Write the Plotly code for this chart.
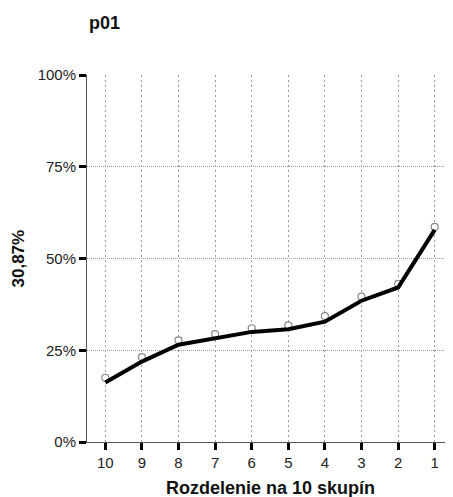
import plotly.graph_objects as go

categories = ["10", "9", "8", "7", "6", "5", "4", "3", "2", "1"]
observed = [17.5, 23.1, 27.7, 29.4, 31.0, 31.8, 34.3, 39.6, 43.1, 58.6]
fitted = [16.2, 21.9, 26.5, 28.2, 30.0, 30.7, 32.8, 38.5, 42.1, 57.8]
y_ticks = [0, 25, 50, 75, 100]
y_tick_labels = ["0%", "25%", "50%", "75%", "100%"]
title_text = "p01"
y_title_text = "30,87%"
x_title_text = "Rozdelenie na 10 skupín"

FONT = "Liberation Sans, Arial, sans-serif"

fig = go.Figure()
fig.add_trace(go.Scatter(
    x=categories, y=observed, mode="markers",
    marker=dict(symbol="circle", size=7, color="white",
                line=dict(color="#888888", width=1.2)),
    showlegend=False, cliponaxis=False,
))
fig.add_trace(go.Scatter(
    x=categories, y=fitted, mode="lines",
    line=dict(color="black", width=4),
    showlegend=False, cliponaxis=False,
))

fig.update_layout(
    width=445, height=489,
    margin=dict(l=79, r=0, t=67, b=55),
    paper_bgcolor="white", plot_bgcolor="white",
    font=dict(family=FONT, size=15, color="#222222"),
    xaxis=dict(
        type="category", range=[-0.5, 9.5],
        showgrid=True, gridcolor="#999999", griddash="2px,3px", gridwidth=1,
        showline=True, linecolor="#555555", linewidth=1,
        ticks="outside", ticklen=7, tickwidth=3, tickcolor="black",
        tickfont=dict(size=15, color="#222222"),
        zeroline=False, fixedrange=True,
    ),
    yaxis=dict(
        range=[0, 100], tickvals=y_ticks, ticktext=y_tick_labels,
        showgrid=True, gridcolor="#999999", griddash="1px,1px", gridwidth=1,
        showline=True, linecolor="#555555", linewidth=1,
        ticks="outside", ticklen=7, tickwidth=3, tickcolor="black",
        tickfont=dict(size=15, color="#222222"),
        zeroline=False, fixedrange=True,
    ),
    annotations=[
        dict(text="<b>" + title_text + "</b>", xref="paper", yref="paper",
             x=0, y=1, xshift=17, yshift=52, xanchor="center", yanchor="middle",
             showarrow=False, font=dict(size=18, color="#111111", family=FONT)),
        dict(text="<b>" + y_title_text + "</b>", xref="paper", yref="paper",
             x=0, y=0.5, xshift=-69, xanchor="center", yanchor="middle",
             textangle=-90, showarrow=False,
             font=dict(size=17, color="#111111", family=FONT)),
        dict(text="<b>" + x_title_text + "</b>", xref="paper", yref="paper",
             x=0.5, y=0, yshift=-46, xanchor="center", yanchor="middle",
             showarrow=False, font=dict(size=18, color="#111111", family=FONT)),
    ],
)

fig.write_html("out.html", config={"displayModeBar": False})
